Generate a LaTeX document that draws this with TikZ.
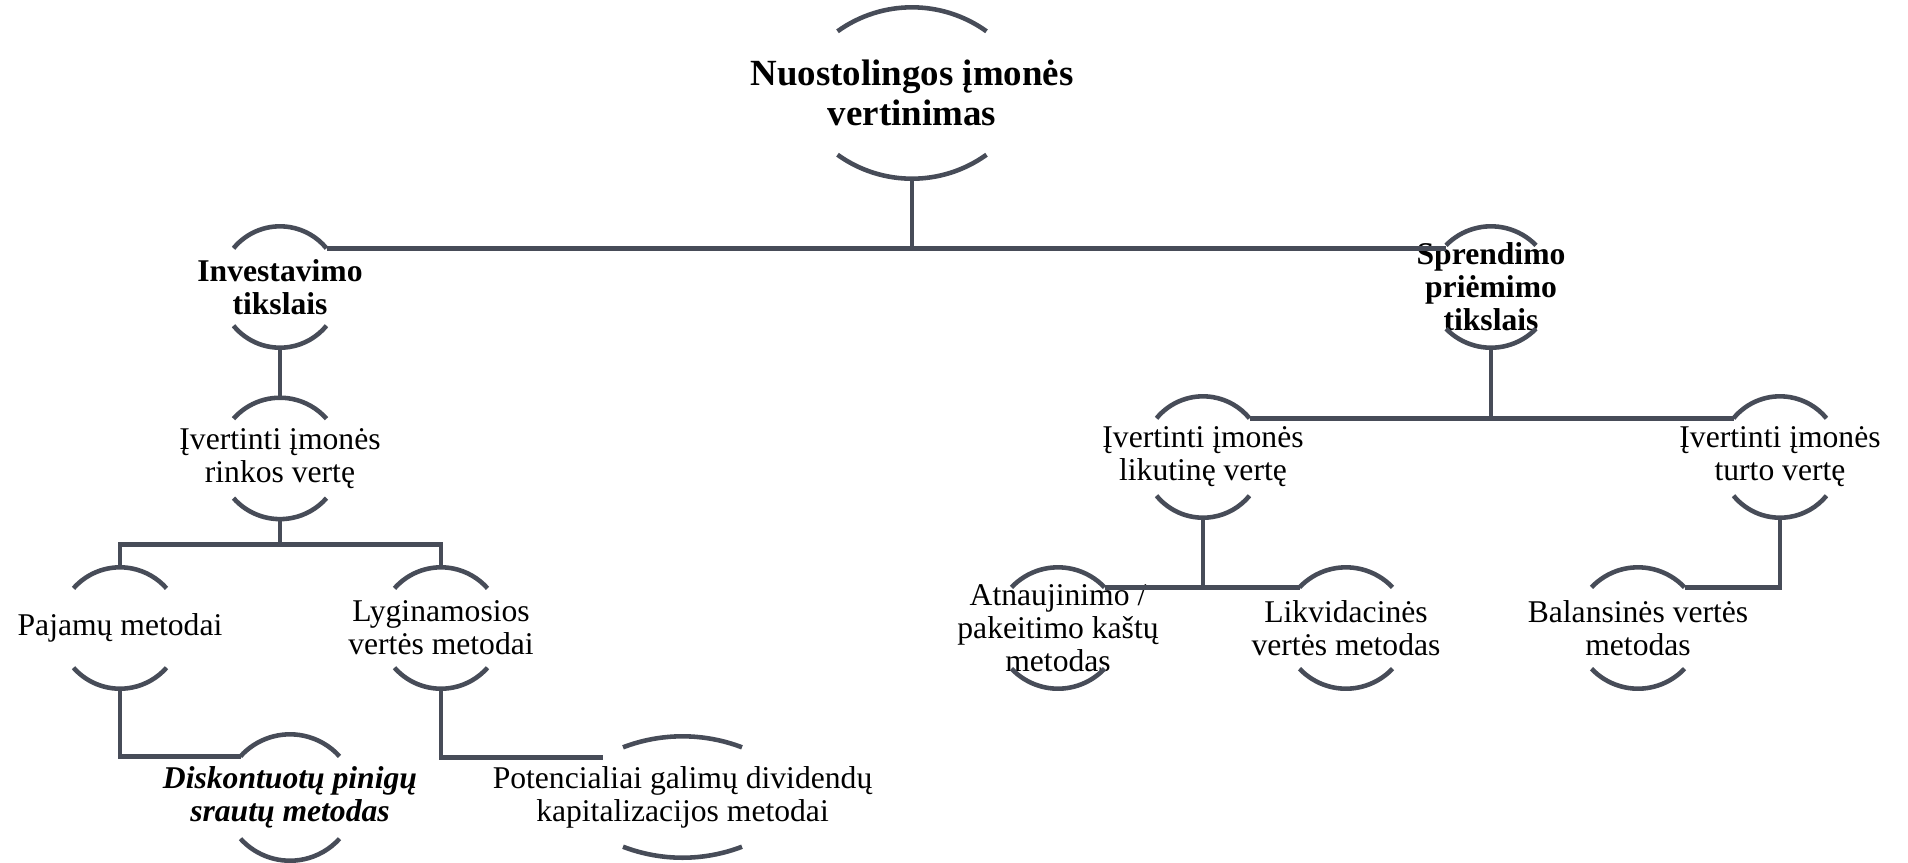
\documentclass[tikz,border=0pt]{standalone}
\usepackage{fontspec}
\setmainfont{Liberation Serif}
\usetikzlibrary{positioning, calc}
\definecolor{slate}{HTML}{474C58}

\begin{document}
\begin{tikzpicture}[
		node distance=0.5cm,
		item/.style={inner sep=0pt, minimum height=1.2cm, align=center, font=\fontsize{9}{9.4}\selectfont},
		head/.style={item, font=\fontsize{9}{9.4}\selectfont\bfseries},
		rim/.style={draw=slate, line width=1.3pt},
		link/.style={draw=slate, line width=1.4pt}
		]
		\useasboundingbox (0,0) rectangle (19.08,-8.62);
		
		% Top
		\node[item, minimum height=1.7cm, font=\fontsize{10.5}{11.4}\selectfont\bfseries] (root) at (9.12,-0.93) {Nuostolingos įmonės\\vertinimas};
		
		% Purposes
		\node[head] (inv) at (2.80,-2.87) {Investavimo\\tikslais};
		\node[head] (spr) at (14.91,-2.87) {Sprendimo\\priėmimo\\tikslais};
		
		% Tasks
		\node[item, below=of inv] (mkt) {Įvertinti įmonės\\rinkos vertę};
		\node[item] (resid) at (12.03,-4.57) {Įvertinti įmonės\\likutinę vertę};
		\node[item] (asset) at (17.80,-4.57) {Įvertinti įmonės\\turto vertę};
		
		% Methods
		\node[item] (inc) at (1.20,-6.28) {Pajamų metodai};
		\node[item] (comp) at (4.41,-6.28) {Lyginamosios\\vertės metodai};
		\node[item] (repl) at (10.58,-6.28) {Atnaujinimo /\\pakeitimo kaštų\\metodas};
		\node[item] (liq) at (13.46,-6.28) {Likvidacinės\\vertės metodas};
		\node[item] (book) at (16.38,-6.28) {Balansinės vertės\\metodas};
		
		% Sub-methods
		\node[item, minimum height=1.25cm, font=\fontsize{9}{9.4}\selectfont\bfseries\itshape] (dcf) at (2.90,-7.975) {Diskontuotų pinigų\\srautų metodas};
		\node[item] (div) at (6.825,-7.97) {Potencialiai galimų dividendų\\kapitalizacijos metodai};
		
		% Arcs above and below each node
		\foreach \nm/\hw/\sg in {root/0.745/0.24, inv/0.465/0.22, spr/0.45/0.19, mkt/0.465/0.21, resid/0.465/0.22, asset/0.465/0.22, inc/0.465/0.21, comp/0.465/0.21, repl/0.465/0.20, liq/0.465/0.20, book/0.465/0.20, dcf/0.495/0.22, div/0.595/0.11}{
			\coordinate (\nm-tl) at ($(\nm.north)+(-\hw,-\sg)$);
			\coordinate (\nm-tr) at ($(\nm.north)+(\hw,-\sg)$);
			\draw[rim] (\nm-tl) arc[start angle={90+2*atan(\sg/\hw)}, end angle={90-2*atan(\sg/\hw)}, radius={\hw/sin(2*atan(\sg/\hw))}];
			\draw[rim] ($(\nm.south)+(-\hw,\sg)$) arc[start angle={270-2*atan(\sg/\hw)}, end angle={270+2*atan(\sg/\hw)}, radius={\hw/sin(2*atan(\sg/\hw))}];
		}
		
		% Links
		\draw[link] (root.south) -- (root.south |- inv-tr);
		\draw[link] (inv-tr) -- (inv-tr -| spr-tl);
		\draw[link] (inv.south) -- (mkt.north);
		\draw[link] (mkt.south) -- ++(0,-0.25) -| (inc.north);
		\draw[link] (mkt.south) -- ++(0,-0.25) -| (comp.north);
		\draw[link] (spr.south) -- (spr.south |- resid-tr);
		\draw[link] (resid-tr) -- (asset-tl);
		\draw[link] (resid.south) -- (resid.south |- repl-tr);
		\draw[link] (repl-tr) -- (liq-tl);
		\draw[link] (asset.south) |- (book-tr);
		\draw[link] (inc.south) |- (dcf-tl);
		\draw[link] (comp.south) |- ([xshift=-0.2cm, yshift=-0.1cm]div-tl);
		
	\end{tikzpicture}
\end{document}
